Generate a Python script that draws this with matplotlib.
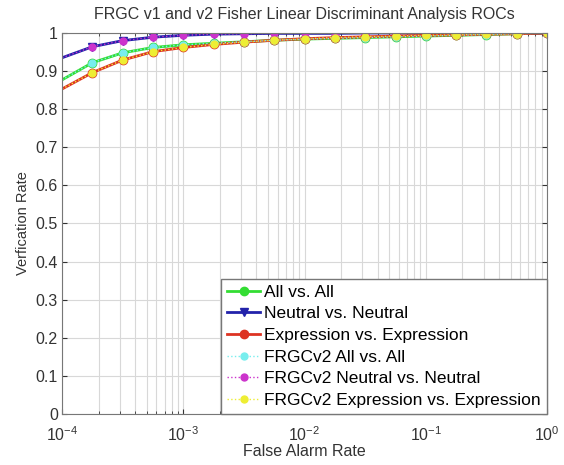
import numpy as np
import matplotlib.pyplot as plt

plt.rcParams['font.family'] = ['Liberation Sans', 'DejaVu Sans']

# false alarm rate: quarter-decade steps from 1e-4 to 1
far_exp = [-4.0, -3.75, -3.5, -3.25, -3.0, -2.75, -2.5, -2.25, -2.0,
           -1.75, -1.5, -1.25, -1.0, -0.75, -0.5, -0.25, 0.0]
far = [10 ** e for e in far_exp]

all_v1 = [0.877, 0.922, 0.948, 0.962, 0.969, 0.973, 0.977, 0.981, 0.984,
          0.986, 0.988, 0.990, 0.992, 0.994, 0.996, 0.998, 1.0]
neutral_v1 = [0.935, 0.964, 0.980, 0.989, 0.994, 0.997, 0.998, 0.999, 0.999,
              0.999, 1.0, 1.0, 1.0, 1.0, 1.0, 1.0, 1.0]
expr_v1 = [0.853, 0.896, 0.929, 0.951, 0.962, 0.970, 0.976, 0.981, 0.985,
           0.988, 0.990, 0.992, 0.994, 0.995, 0.997, 0.998, 1.0]

all_v2 = all_v1
neutral_v2 = neutral_v1
expr_v2 = expr_v1

labels = ['All vs. All', 'Neutral vs. Neutral', 'Expression vs. Expression',
          'FRGCv2 All vs. All', 'FRGCv2 Neutral vs. Neutral',
          'FRGCv2 Expression vs. Expression']

txt = '#333333'
fig = plt.figure(figsize=(5.64, 4.65), dpi=100)
ax = fig.add_axes([0.11, 0.11, 0.86, 0.819])

ax.plot(far, all_v1, '-o', color='#33dd33', lw=2, ms=6, markevery=slice(1, None), label=labels[0])
ax.plot(far, neutral_v1, '-v', color='#2222aa', lw=2, ms=6, markevery=slice(1, None), label=labels[1])
ax.plot(far, expr_v1, '-o', color='#dd3322', lw=2, ms=6, markevery=slice(1, None), label=labels[2])
ax.plot(far, all_v2, ':o', color='#77eeee', lw=1, ms=5, markevery=slice(1, None), label=labels[3])
ax.plot(far, neutral_v2, ':o', color='#cc33cc', lw=1, ms=5, markevery=slice(1, None), label=labels[4])
ax.plot(far, expr_v2, ':o', color='#eeee33', lw=1, ms=5, markevery=slice(1, None), label=labels[5])

ax.set_xscale('log')
ax.set_xlim(1e-4, 1)
ax.set_ylim(0, 1)
ax.set_yticks(np.arange(0, 1.01, 0.1))
ax.set_yticklabels(['0', '0.1', '0.2', '0.3', '0.4', '0.5', '0.6', '0.7', '0.8', '0.9', '1'])
ax.grid(True, which='both', color='#d8d8d8', lw=0.8)
ax.tick_params(which='both', direction='in', top=True, right=True, labelsize=11.5, colors=txt)
ax.tick_params(axis='x', pad=8)
ax.tick_params(axis='y', pad=3)
for s in ax.spines.values():
    s.set_color('#777777')

ax.set_title('FRGC v1 and v2 Fisher Linear Discriminant Analysis ROCs', fontsize=11.5, color=txt, pad=10)
ax.set_xlabel('False Alarm Rate', fontsize=11.5, color=txt, labelpad=0)
ax.set_ylabel('Verfication Rate', fontsize=10.5, color=txt, labelpad=4)

leg = ax.legend(loc='lower right', fontsize=12.5, fancybox=False, framealpha=1,
                edgecolor='#777777', borderaxespad=0, handlelength=1.9,
                labelspacing=0.37, borderpad=0.35, handletextpad=0.25)

fig.savefig('out.png')
